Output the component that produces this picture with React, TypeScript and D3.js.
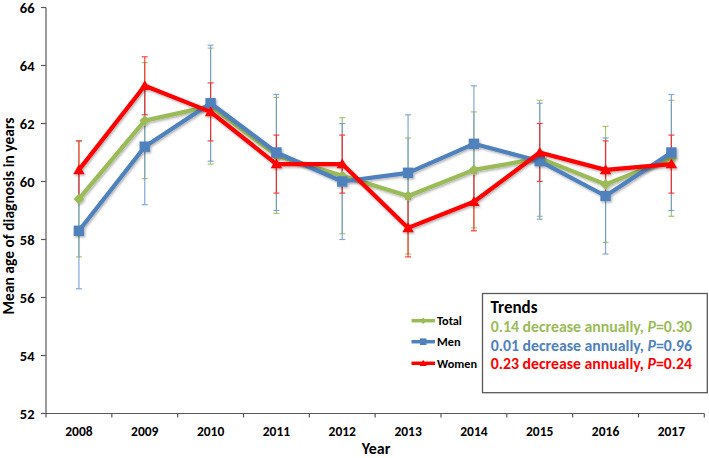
import React from 'react';
import * as d3 from 'd3';

const years = ['2008', '2009', '2010', '2011', '2012', '2013', '2014', '2015', '2016', '2017'];
const totalValues = [59.4, 62.1, 62.6, 60.9, 60.2, 59.5, 60.4, 60.8, 59.9, 60.8];
const menValues = [58.3, 61.2, 62.7, 61.0, 60.0, 60.3, 61.3, 60.7, 59.5, 61.0];
const womenValues = [60.4, 63.3, 62.4, 60.6, 60.6, 58.4, 59.3, 61.0, 60.4, 60.6];
const totalErrors = [2.0, 2.0, 2.0, 2.0, 2.0, 2.0, 2.0, 2.0, 2.0, 2.0];
const menErrors = [2.0, 2.0, 2.0, 2.0, 2.0, 2.0, 2.0, 2.0, 2.0, 2.0];
const womenErrors = [1.0, 1.0, 1.0, 1.0, 1.0, 1.0, 1.0, 1.0, 1.0, 1.0];
const yTicks = [52, 54, 56, 58, 60, 62, 64, 66];
const seriesNames = ['Total', 'Men', 'Women'];
const trendRates = ['0.14', '0.01', '0.23'];
const trendPValues = ['0.30', '0.96', '0.24'];

const FONT = 'Carlito, Lato, "Open Sans", sans-serif';

const series = [
  { name: seriesNames[0], values: totalValues, errors: totalErrors, color: '#9BBB59', errColor: '#9BBB59', marker: 'diamond' },
  { name: seriesNames[1], values: menValues, errors: menErrors, color: '#4F81BD', errColor: '#6E98CF', marker: 'square' },
  { name: seriesNames[2], values: womenValues, errors: womenErrors, color: '#FF0000', errColor: '#FF2020', marker: 'triangle' },
];

function markerPath(kind: string, s: number): string {
  if (kind === 'diamond') return `M0,${-s}L${s},0L0,${s}L${-s},0Z`;
  if (kind === 'square') return `M${-s},${-s}H${s}V${s}H${-s}Z`;
  return `M0,${-s * 1.05}L${s * 1.08},${s * 0.8}L${-s * 1.08},${s * 0.8}Z`;
}

export default function App() {
  const W = 709;
  const H = 458;
  const x = d3.scaleBand<string>().domain(years).range([46, 704.3]).padding(0);
  const y = d3.scaleLinear().domain([52, 66]).range([413.5, 7.5]);
  const cx = (yr: string) => (x(yr) as number) + x.bandwidth() / 2;
  const line = d3
    .line<number>()
    .x((_, i) => cx(years[i]))
    .y((d) => y(d));

  const boundaries = years.map((yr) => x(yr) as number).concat([704.3]);

  const legendY = [320.7, 341.7, 363.3];
  const trendY = [331.7, 350.7, 369.3];

  return (
    <svg width={W} height={H} style={{ position: 'absolute', left: 0, top: 0, background: '#fff' }} fontFamily={FONT}>
      <defs>
        <filter id="shadow" x="-20%" y="-20%" width="140%" height="140%">
          <feDropShadow dx="1.2" dy="1.5" stdDeviation="1" floodColor="#000" floodOpacity="0.3" />
        </filter>
      </defs>
      <rect width={W} height={H} fill="#fff" />

      {/* Y axis */}
      <line x1={46} x2={46} y1={y(66)} y2={y(52)} stroke="#595959" strokeWidth={1.2} />
      {yTicks.map((t) => (
        <g key={t}>
          <line x1={41} x2={46} y1={y(t)} y2={y(t)} stroke="#595959" strokeWidth={1.2} />
          <text x={34.5} y={y(t)} textAnchor="end" dominantBaseline="central" fontSize={14.5} fontWeight="bold" fill="#000">
            {t}
          </text>
        </g>
      ))}
      <text
        transform={`translate(13.5,216) rotate(-90)`}
        textAnchor="middle"
        fontSize={15.5}
        fontWeight="bold"
        fill="#000"
      >
        Mean age of diagnosis in years
      </text>

      {/* X axis */}
      <line x1={46} x2={704.3} y1={y(52)} y2={y(52)} stroke="#595959" strokeWidth={1.2} />
      {boundaries.map((b, i) => (
        <line key={i} x1={b} x2={b} y1={y(52)} y2={y(52) + 4} stroke="#595959" strokeWidth={1.2} />
      ))}
      {years.map((yr) => (
        <text key={yr} x={cx(yr)} y={435.5} textAnchor="middle" fontSize={13.5} fontWeight="bold" fill="#000">
          {yr}
        </text>
      ))}
      <text x={376} y={453.5} textAnchor="middle" fontSize={16} fontWeight="bold" fill="#000">
        Year
      </text>

      {/* Error bars */}
      {series.map((s) => (
        <g key={s.name + 'err'} stroke={s.errColor} strokeWidth={1.2} opacity={0.85}>
          {s.values.map((v, i) => {
            const xc = cx(years[i]);
            const y1 = y(v + s.errors[i]);
            const y2 = y(v - s.errors[i]);
            return (
              <g key={i}>
                <line x1={xc} x2={xc} y1={y1} y2={y2} />
                <line x1={xc - 3} x2={xc + 3} y1={y1} y2={y1} />
                <line x1={xc - 3} x2={xc + 3} y1={y2} y2={y2} />
              </g>
            );
          })}
        </g>
      ))}

      {/* Lines and markers */}
      {series.map((s) => (
        <g key={s.name} filter="url(#shadow)">
          <path d={line(s.values) || ''} fill="none" stroke={s.color} strokeWidth={4.2} strokeLinejoin="round" />
          {s.values.map((v, i) => (
            <path
              key={i}
              d={markerPath(s.marker, s.marker === 'square' ? 5.2 : 5.3)}
              transform={`translate(${cx(years[i])},${y(v)})`}
              fill={s.color}
            />
          ))}
        </g>
      ))}

      {/* Legend */}
      {series.map((s, i) => (
        <g key={s.name + 'leg'}>
          <line x1={411.5} x2={435} y1={legendY[i]} y2={legendY[i]} stroke={s.color} strokeWidth={3.5} />
          <path d={markerPath(s.marker, 3.3)} transform={`translate(423.2,${legendY[i]})`} fill={s.color} />
          <text x={437} y={legendY[i]} dominantBaseline="central" fontSize={12.3} fontWeight="bold" fill="#000">
            {s.name}
          </text>
        </g>
      ))}

      {/* Trends box */}
      <rect x={482.5} y={293.5} width={224.8} height={99.2} fill="#fff" stroke="#595959" strokeWidth={1.3} />
      <text x={490.5} y={312.5} fontSize={17} fontWeight="bold" fill="#000">
        Trends
      </text>
      {series.map((s, i) => (
        <text key={s.name + 'tr'} x={490.7} y={trendY[i]} fontSize={15.8} fontWeight="bold" fill={s.color}>
          {`${trendRates[i]} decrease annually, `}
          <tspan fontStyle="italic">P</tspan>
          {`=${trendPValues[i]}`}
        </text>
      ))}
    </svg>
  );
}
